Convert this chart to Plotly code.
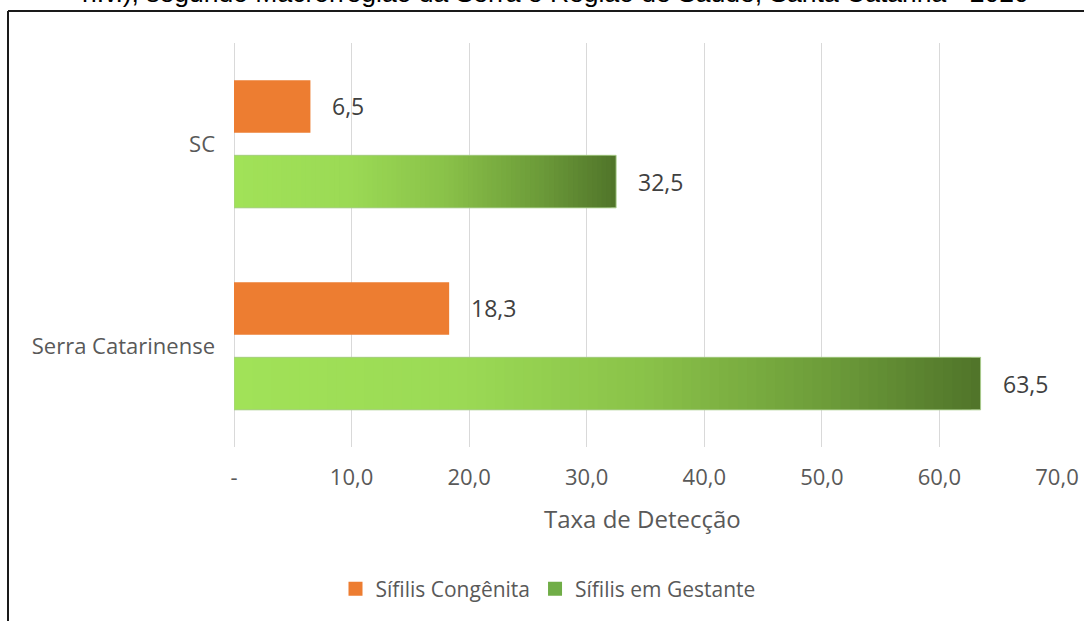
import plotly.graph_objects as go

# ---------------- data ----------------
categories = ["SC", "Serra Catarinense"]
sifilis_congenita = [6.5, 18.3]
sifilis_gestante = [32.5, 63.5]
series_names = ["Sífilis Congênita", "Sífilis em Gestante"]
tick_values = [0, 10, 20, 30, 40, 50, 60, 70]
tick_labels = ["-", "10,0", "20,0", "30,0", "40,0", "50,0", "60,0", "70,0"]
title_line = "n.v.), segundo Macrorregião da Serra e Região de Saúde, Santa Catarina - 2020"
x_title = "Taxa de Detecção"

# ---------------- style ----------------
W, H = 1084, 621
L, R, T, B = 234, 27, 43, 174
PW, PH = W - L - R, H - T - B
FONT = "Open Sans, sans-serif"
ORANGE = "#ED7D31"
GRAD_STOPS = [(0.0, (161, 226, 88)), (0.3, (155, 218, 85)), (0.55, (138, 194, 73)),
              (0.8, (108, 155, 57)), (1.0, (80, 116, 42))]
N = 80
BAR_W = 0.26
OFFSET = 0.186


def grad_color(t):
    for (t0, c0), (t1, c1) in zip(GRAD_STOPS[:-1], GRAD_STOPS[1:]):
        if t0 <= t <= t1:
            f = (t - t0) / (t1 - t0)
            c = [round(a + (b - a) * f) for a, b in zip(c0, c1)]
            return f"rgb({c[0]},{c[1]},{c[2]})"
    c = GRAD_STOPS[-1][1]
    return f"rgb({c[0]},{c[1]},{c[2]})"


def px_x(p):
    return (p - L) / PW


def px_y(p):
    return (H - B - p) / PH


def fmt(v):
    return f"{v:.1f}".replace(".", ",")


positions = list(range(len(categories)))
orange_y = [p - OFFSET for p in positions]
green_y = [p + OFFSET for p in positions]

fig = go.Figure()

# orange bars
fig.add_trace(go.Bar(
    y=orange_y, x=sifilis_congenita, orientation="h", name=series_names[0],
    width=BAR_W, marker=dict(color=ORANGE, line=dict(width=0)), showlegend=False,
    customdata=categories,
    hovertemplate="%{customdata}: %{x}<extra>" + series_names[0] + "</extra>",
))

# green gradient bars: nested bars, longest (darkest) drawn first
gy, gx, gc = [], [], []
for k in range(N, 0, -1):
    for yy, v in zip(green_y, sifilis_gestante):
        gy.append(yy)
        gx.append(v * k / N)
        gc.append(grad_color((k - 0.5) / N))
fig.add_trace(go.Bar(
    y=gy, x=gx, orientation="h", name=series_names[1], width=BAR_W,
    marker=dict(color=gc, line=dict(width=0)), showlegend=False,
    hoverinfo="skip",
))
# thin outline over green bars
fig.add_trace(go.Bar(
    y=green_y, x=sifilis_gestante, orientation="h", name=series_names[1], width=BAR_W,
    marker=dict(color="rgba(0,0,0,0)", line=dict(width=1, color="rgba(170,205,140,0.9)")),
    showlegend=False, customdata=categories,
    hovertemplate="%{customdata}: %{x}<extra>" + series_names[1] + "</extra>",
))

# legend entries
fig.add_trace(go.Scatter(x=[None], y=[None], mode="markers", name=series_names[0],
                         marker=dict(symbol="square", size=14, color=ORANGE)))
fig.add_trace(go.Scatter(x=[None], y=[None], mode="markers", name=series_names[1],
                         marker=dict(symbol="square", size=14, color="#70AD47")))

# data labels
ann = []
for yy, v in zip(orange_y, sifilis_congenita):
    ann.append(dict(x=v, y=yy, xref="x", yref="y", text=fmt(v), showarrow=False,
                    xanchor="left", yanchor="middle", xshift=20,
                    font=dict(family=FONT, size=23, color="#404040")))
for yy, v in zip(green_y, sifilis_gestante):
    ann.append(dict(x=v, y=yy, xref="x", yref="y", text=fmt(v), showarrow=False,
                    xanchor="left", yanchor="middle", xshift=20,
                    font=dict(family=FONT, size=23, color="#404040")))
# axis title
ann.append(dict(x=px_x(642), y=px_y(518), xref="paper", yref="paper", text=x_title,
                showarrow=False, xanchor="center", yanchor="middle",
                font=dict(family=FONT, size=24, color="#595959")))
# clipped title line at the very top
ann.append(dict(x=px_x(555), y=px_y(-7), xref="paper", yref="paper", text=title_line,
                showarrow=False, xanchor="center", yanchor="middle",
                font=dict(family="Liberation Sans, Arial, sans-serif", size=26.5, color="black")))

fig.update_layout(
    width=W, height=H,
    margin=dict(l=L, r=R, t=T, b=B, autoexpand=False),
    paper_bgcolor="white", plot_bgcolor="white",
    barmode="overlay",
    showlegend=True,
    legend=dict(orientation="h", x=px_x(548), y=px_y(589), xanchor="center", yanchor="middle",
                font=dict(family=FONT, size=21, color="#595959"), itemwidth=30,
                bgcolor="rgba(0,0,0,0)"),
    annotations=ann,
    shapes=[
        dict(type="line", xref="paper", yref="paper", x0=px_x(8), x1=px_x(1090),
             y0=px_y(11), y1=px_y(11), line=dict(color="#1a1a1a", width=2)),
        dict(type="line", xref="paper", yref="paper", x0=px_x(8), x1=px_x(8),
             y0=px_y(11), y1=px_y(630), line=dict(color="#1a1a1a", width=2)),
    ],
    xaxis=dict(range=[0, 70], tickvals=tick_values, ticktext=tick_labels,
               showgrid=True, gridcolor="#D9D9D9", gridwidth=1, automargin=False,
               zeroline=True, zerolinecolor="#D9D9D9", zerolinewidth=1,
               showline=False, ticks="", ticklabelstandoff=15,
               tickfont=dict(family=FONT, size=22, color="#595959")),
    yaxis=dict(range=[len(categories) - 0.5, -0.5], tickvals=positions, ticktext=categories,
               showgrid=False, zeroline=False, showline=False, ticks="", automargin=False,
               ticklabelstandoff=18,
               tickfont=dict(family=FONT, size=22, color="#595959")),
)

fig.write_html(
    "out.html",
    config={"displayModeBar": False},
    post_script="document.body.style.margin='0';document.body.style.overflow='hidden';",
)
